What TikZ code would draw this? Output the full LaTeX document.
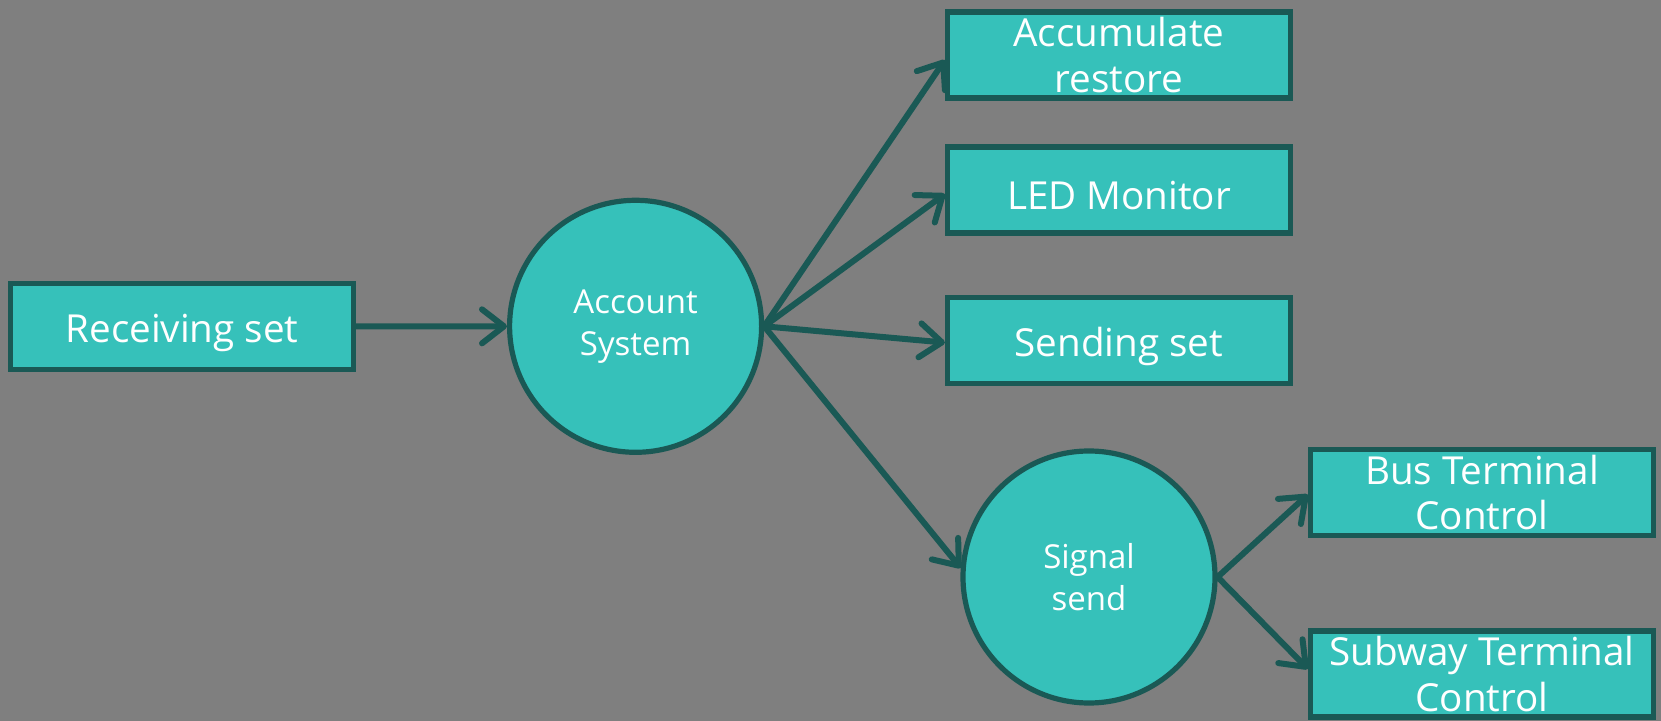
\documentclass[tikz,border=0pt]{standalone}
\usepackage{fontspec}
\setmainfont{Open Sans}
\usetikzlibrary{arrows.meta}
\definecolor{bgc}{RGB}{127,127,127}
\definecolor{fillc}{RGB}{54,193,186}
\definecolor{edgec}{RGB}{26,89,85}
\tikzset{
  boxnode/.style={draw=edgec, fill=fillc, line width=2.6pt, minimum width=171.5pt, minimum height=43pt,
    inner sep=0pt, align=center, text=white, font=\fontsize{19.3}{22.8}\selectfont},
  circnode/.style={circle, draw=edgec, fill=fillc, line width=2.6pt, minimum size=126pt,
    inner sep=0pt, align=center, text=white, font=\fontsize{16.5}{21}\selectfont},
  conn/.style={draw=edgec, line width=3pt, line cap=round, -{Straight Barb[length=11pt,width=17pt,line cap=round,line join=round]}}
}
\newcommand{\lowtext}[1]{\raisebox{-3pt}[\height][\depth]{#1}}
\begin{document}
\begin{tikzpicture}[x=0.5pt,y=-0.5pt]
\fill[bgc] (0,0) rectangle (1661,721);
\useasboundingbox (0,0) rectangle (1661,721);
\node[boxnode] (rec) at (182,326.5) {\lowtext{Receiving set}};
\node[circnode] (acct) at (635.6,326.3) {Account\\System};
\node[boxnode] (accu) at (1119,55) {Accumulate\\restore};
\node[boxnode] (led) at (1119,190) {\lowtext{LED Monitor}};
\node[boxnode] (send) at (1119,340.6) {\lowtext{Sending set}};
\node[circnode] (sig) at (1089,577) {Signal\\send};
\node[boxnode] (bus) at (1482,492.6) {Bus Terminal\\Control};
\node[boxnode] (sub) at (1482,674) {Subway Terminal\\Control};
\draw[conn] (rec.east) -- (acct.west);
\draw[conn] (acct.east) -- ([yshift=-2.5pt]accu.west);
\draw[conn] (acct.east) -- ([yshift=-2pt]led.west);
\draw[conn] (acct.east) -- ([yshift=-1pt]send.west);
\draw[conn] (acct.east) -- (sig.176);
\draw[conn] (sig.east) -- ([yshift=-1pt]bus.west);
\draw[conn] (sig.east) -- ([yshift=2.5pt]sub.west);
\end{tikzpicture}
\end{document}
